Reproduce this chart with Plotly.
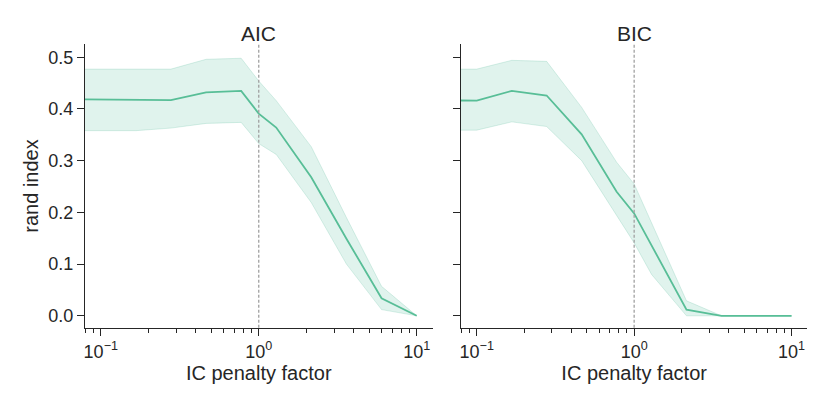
import plotly.graph_objects as go

# penalty factors (x) shared by both panels
penalty = [0.05, 0.1, 0.167, 0.278, 0.464, 0.774, 1.0, 1.29, 2.15, 3.59, 5.99, 10.0]

aic_mean  = [0.419, 0.418, 0.418, 0.417, 0.432, 0.435, 0.391, 0.364, 0.268, 0.149, 0.034, 0.0]
aic_upper = [0.477, 0.477, 0.477, 0.477, 0.496, 0.498, 0.454, 0.416, 0.327, 0.190, 0.057, 0.0]
aic_lower = [0.358, 0.358, 0.358, 0.363, 0.372, 0.374, 0.333, 0.312, 0.219, 0.100, 0.012, 0.0]

bic_mean  = [0.417, 0.416, 0.435, 0.426, 0.351, 0.240, 0.198, 0.136, 0.012, 0.0, 0.0, 0.0]
bic_upper = [0.477, 0.477, 0.494, 0.492, 0.403, 0.297, 0.255, 0.180, 0.029, 0.0, 0.0, 0.0]
bic_lower = [0.359, 0.359, 0.375, 0.366, 0.300, 0.195, 0.141, 0.080, 0.0, 0.0, 0.0, 0.0]

panel_titles = ["AIC", "BIC"]
x_tickvals = [0.1, 1, 10]
x_ticktext = ["10<sup>−1</sup>", "10<sup>0</sup>", "10<sup>1</sup>"]
y_tickvals = [0.0, 0.1, 0.2, 0.3, 0.4, 0.5]
y_ticktext = ["0.0", "0.1", "0.2", "0.3", "0.4", "0.5"]
minor_vals = [0.08, 0.09] + [k / 10 for k in range(2, 10)] + list(range(2, 10))

LINE = "#58be97"
FILL = "rgba(102,194,165,0.2)"
EDGE = "rgba(102,194,165,0.3)"
INK = "#262626"
FONT = "Liberation Sans, Arial, sans-serif"
FS_TICK, FS_AX, FS_TITLE = 18, 20, 21

W, H, OFF = 822, 407, 8  # page body has an 8px margin

fig = go.Figure()

panels = [
    ("x", "y", aic_mean, aic_upper, aic_lower),
    ("x2", "y2", bic_mean, bic_upper, bic_lower),
]
for xa, ya, m, up, lo in panels:
    fig.add_trace(go.Scatter(x=penalty, y=up, xaxis=xa, yaxis=ya, mode="lines",
                             line=dict(color=EDGE, width=0.8), showlegend=False,
                             hoverinfo="skip"))
    fig.add_trace(go.Scatter(x=penalty, y=lo, xaxis=xa, yaxis=ya, mode="lines",
                             line=dict(color=EDGE, width=0.8), fill="tonexty",
                             fillcolor=FILL, showlegend=False, hoverinfo="skip"))
    fig.add_trace(go.Scatter(x=penalty, y=m, xaxis=xa, yaxis=ya, mode="lines",
                             line=dict(color=LINE, width=1.8), showlegend=False))
    fig.add_shape(type="line", xref=xa, yref=ya + " domain", x0=1, x1=1, y0=0, y1=1,
                  line=dict(color="#a0a0a0", width=1.3, dash="3px,2px"))

xdoms = [[(85 - OFF) / W, (432.5 - OFF) / W], [(461 - OFF) / W, (807.3 - OFF) / W]]
ydom = [1 - (327.7 - OFF) / H, 1 - (44.3 - OFF) / H]

common_x = dict(type="log", range=[-1.1, 1.1], tickvals=x_tickvals, ticktext=x_ticktext,
                ticks="outside", ticklen=7, tickwidth=1.2, tickcolor=INK,
                showline=True, linecolor=INK, linewidth=1.4, showgrid=False, zeroline=False,
                minor=dict(tickvals=minor_vals, ticks="outside", ticklen=4,
                           tickwidth=1, tickcolor=INK, showgrid=False),
                tickfont=dict(size=FS_TICK, color=INK, family=FONT),
                title=dict(text="IC penalty factor", font=dict(size=FS_AX, color=INK, family=FONT),
                           standoff=3))
common_y = dict(range=[-0.023, 0.525], tickvals=y_tickvals, ticktext=y_ticktext,
                ticks="outside", ticklen=7, tickwidth=1.2, tickcolor=INK,
                showline=True, linecolor=INK, linewidth=1.4, showgrid=False, zeroline=False,
                tickfont=dict(size=FS_TICK, color=INK, family=FONT), domain=ydom)

fig.update_layout(
    width=W, height=H,
    margin=dict(l=0, r=0, t=0, b=0),
    paper_bgcolor="white", plot_bgcolor="white",
    font=dict(family=FONT, color=INK, size=FS_TICK),
    xaxis=dict(common_x, domain=xdoms[0], anchor="y"),
    xaxis2=dict(common_x, domain=xdoms[1], anchor="y2"),
    yaxis=dict(common_y, anchor="x",
               title=dict(text="rand index", font=dict(size=FS_AX, color=INK, family=FONT),
                          standoff=4)),
    yaxis2=dict(common_y, anchor="x2", showticklabels=False),
)

for i, t in enumerate(panel_titles):
    fig.add_annotation(text=t, xref=("x" if i == 0 else "x2") + " domain", yref="paper",
                       x=0.5, y=1 - (33 - OFF) / H, yanchor="middle", showarrow=False,
                       font=dict(size=FS_TITLE, color=INK, family=FONT))

fig.write_html("out.html")
